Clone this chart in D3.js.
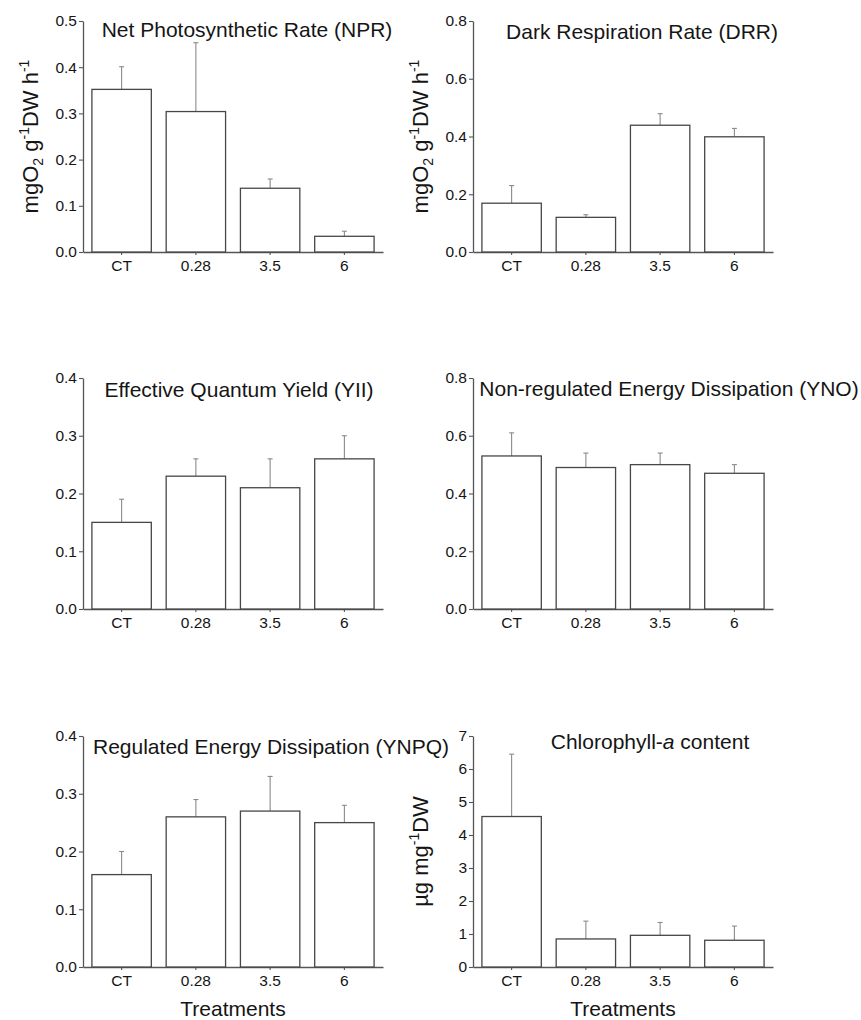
<!DOCTYPE html>
<html>
<head>
<meta charset="utf-8">
<script src="https://cdn.jsdelivr.net/npm/d3@7"></script>
<style>
  body { margin: 0; background: #fff; }
  svg { display: block; }
  text { font-family: "Liberation Sans", Arial, sans-serif; fill: #151515; }
</style>
</head>
<body>
<svg id="chart" width="861" height="1020"></svg>
<script>
// ---- data ----
const categories = ["CT", "0.28", "3.5", "6"];

const nprMean = [0.352, 0.304, 0.138, 0.034];
const nprSD   = [0.049, 0.149, 0.020, 0.011];

const drrMean = [0.169, 0.120, 0.439, 0.399];
const drrSD   = [0.061, 0.009, 0.040, 0.029];

const yiiMean = [0.15, 0.23, 0.21, 0.26];
const yiiSD   = [0.04, 0.03, 0.05, 0.04];

const ynoMean = [0.53, 0.49, 0.50, 0.47];
const ynoSD   = [0.08, 0.05, 0.04, 0.03];

const ynpqMean = [0.16, 0.26, 0.27, 0.25];
const ynpqSD   = [0.04, 0.03, 0.06, 0.03];

const chlMean = [4.56, 0.85, 0.96, 0.81];
const chlSD   = [1.89, 0.54, 0.39, 0.43];

const nprTicks  = [0, 0.1, 0.2, 0.3, 0.4, 0.5];
const drrTicks  = [0, 0.2, 0.4, 0.6, 0.8];
const yiiTicks  = [0, 0.1, 0.2, 0.3, 0.4];
const ynoTicks  = [0, 0.2, 0.4, 0.6, 0.8];
const ynpqTicks = [0, 0.1, 0.2, 0.3, 0.4];
const chlTicks  = [0, 1, 2, 3, 4, 5, 6, 7];

const panels = [
  { title: "Net Photosynthetic Rate (NPR)", mean: nprMean, sd: nprSD, ticks: nprTicks, fmt: ".1f",
    x: 83, y: 21, titleX: 247, titleY: 37, ylabel: "mgO2", xlabel: false },
  { title: "Dark Respiration Rate (DRR)", mean: drrMean, sd: drrSD, ticks: drrTicks, fmt: ".1f",
    x: 473, y: 21, titleX: 642, titleY: 39, ylabel: "mgO2", xlabel: false },
  { title: "Effective Quantum Yield (YII)", mean: yiiMean, sd: yiiSD, ticks: yiiTicks, fmt: ".1f",
    x: 83, y: 378, titleX: 239, titleY: 397, ylabel: null, xlabel: false },
  { title: "Non-regulated Energy Dissipation (YNO)", mean: ynoMean, sd: ynoSD, ticks: ynoTicks, fmt: ".1f",
    x: 473, y: 378, titleX: 669, titleY: 396, ylabel: null, xlabel: false },
  { title: "Regulated Energy Dissipation (YNPQ)", mean: ynpqMean, sd: ynpqSD, ticks: ynpqTicks, fmt: ".1f",
    x: 83, y: 736, titleX: 271, titleY: 754, ylabel: null, xlabel: true },
  { title: "Chlorophyll-a content", mean: chlMean, sd: chlSD, ticks: chlTicks, fmt: "d",
    x: 473, y: 736, titleX: 650, titleY: 749, ylabel: "chl", xlabel: true }
];

const W = 300, H = 231;
const svg = d3.select("#chart");

panels.forEach(p => {
  const g = svg.append("g").attr("transform", `translate(${p.x},${p.y})`);
  const xs = d3.scaleBand().domain(categories).range([0, W]).paddingInner(0.2).paddingOuter(0.12);
  const ys = d3.scaleLinear().domain([0, d3.max(p.ticks)]).range([H, 0]);

  // y axis
  const yAxis = d3.axisLeft(ys).tickValues(p.ticks).tickFormat(d3.format(p.fmt))
    .tickSizeInner(4).tickSizeOuter(0).tickPadding(2);
  const ya = g.append("g").call(yAxis);
  ya.select(".domain").attr("stroke", "#555").attr("stroke-width", 1.3);
  ya.selectAll(".tick line").attr("stroke", "#555").attr("stroke-width", 1.1);
  ya.selectAll(".tick text").attr("font-size", 15.5).attr("fill", "#151515")
    .style("font-family", '"Liberation Sans", Arial, sans-serif');

  // x axis
  const xAxis = d3.axisBottom(xs).tickSizeInner(3).tickSizeOuter(0).tickPadding(5);
  const xa = g.append("g").attr("transform", `translate(0,${H})`).call(xAxis);
  xa.select(".domain").attr("stroke", "#555").attr("stroke-width", 1.3);
  xa.selectAll(".tick line").attr("stroke", "#555").attr("stroke-width", 1.1);
  xa.selectAll(".tick text").attr("font-size", 15.5).attr("fill", "#151515")
    .style("font-family", '"Liberation Sans", Arial, sans-serif');

  const data = categories.map((c, i) => ({ c, m: p.mean[i], s: p.sd[i] }));

  // error bars (upper only)
  const eb = g.append("g").attr("stroke", "#8a8a8a").attr("stroke-width", 1.1);
  eb.selectAll("line.v").data(data).enter().append("line")
    .attr("x1", d => xs(d.c) + xs.bandwidth() / 2).attr("x2", d => xs(d.c) + xs.bandwidth() / 2)
    .attr("y1", d => ys(d.m)).attr("y2", d => ys(d.m + d.s));
  eb.selectAll("line.c").data(data).enter().append("line")
    .attr("x1", d => xs(d.c) + xs.bandwidth() / 2 - 2.5).attr("x2", d => xs(d.c) + xs.bandwidth() / 2 + 2.5)
    .attr("y1", d => ys(d.m + d.s)).attr("y2", d => ys(d.m + d.s));

  // bars
  g.selectAll("rect.bar").data(data).enter().append("rect")
    .attr("x", d => xs(d.c)).attr("width", xs.bandwidth())
    .attr("y", d => ys(d.m)).attr("height", d => H - ys(d.m))
    .attr("fill", "#fff").attr("stroke", "#474747").attr("stroke-width", 1.3);

  // title
  const t = svg.append("text").attr("x", p.titleX).attr("y", p.titleY)
    .attr("text-anchor", "middle").attr("font-size", 21);
  if (p.title === "Chlorophyll-a content") {
    t.append("tspan").text("Chlorophyll-");
    t.append("tspan").attr("font-style", "italic").text("a");
    t.append("tspan").text(" content");
  } else {
    t.text(p.title);
  }

  // y label
  if (p.ylabel) {
    const lx = p.x - 45, ly = p.y + H / 2;
    const yl = svg.append("text").attr("transform", `translate(${lx},${ly}) rotate(-90)`)
      .attr("text-anchor", "middle").attr("font-size", 22);
    if (p.ylabel === "mgO2") {
      yl.append("tspan").text("mgO");
      yl.append("tspan").attr("font-size", 14).attr("dy", 5).text("2");
      yl.append("tspan").attr("dy", -5).text(" g");
      yl.append("tspan").attr("font-size", 14).attr("dy", -9).text("-1");
      yl.append("tspan").attr("dy", 9).text("DW h");
      yl.append("tspan").attr("font-size", 14).attr("dy", -9).text("-1");
    } else {
      yl.append("tspan").text("\u00B5g mg");
      yl.append("tspan").attr("font-size", 14).attr("dy", -9).text("-1");
      yl.append("tspan").attr("dy", 9).text("DW");
    }
  }

  // x label
  if (p.xlabel) {
    svg.append("text").attr("x", p.x + W / 2).attr("y", p.y + H + 49)
      .attr("text-anchor", "middle").attr("font-size", 21).text("Treatments");
  }
});
</script>
</body>
</html>
